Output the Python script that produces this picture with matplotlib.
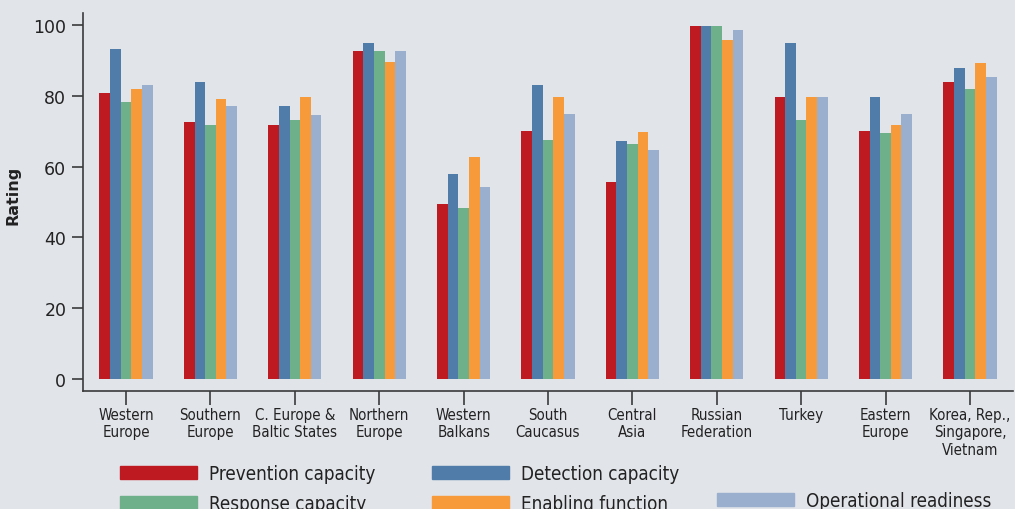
import numpy as np
import matplotlib
matplotlib.use("Agg")
import matplotlib.pyplot as plt
from matplotlib.patches import Patch

regions = ["Western\nEurope", "Southern\nEurope", "C. Europe &\nBaltic States",
           "Northern\nEurope", "Western\nBalkans", "South\nCaucasus", "Central\nAsia",
           "Russian\nFederation", "Turkey", "Eastern\nEurope",
           "Korea, Rep.,\nSingapore,\nVietnam"]

prevention = [80.7, 72.5, 71.7, 92.6, 49.3, 70.2, 55.6, 99.6, 79.8, 70.2, 83.8]
detection = [93.1, 83.8, 77.0, 94.8, 57.8, 83.0, 67.1, 99.6, 94.8, 79.8, 88.0]
response = [78.2, 71.7, 73.1, 92.8, 48.2, 67.4, 66.3, 99.6, 73.1, 69.4, 81.8]
enabling = [81.8, 79.0, 79.8, 89.7, 62.6, 79.8, 69.7, 95.7, 79.8, 71.7, 89.2]
operational = [83.2, 77.0, 74.5, 92.8, 54.1, 74.8, 64.6, 98.5, 79.8, 74.8, 85.2]

series = [
    ("Prevention capacity", prevention, "#be1a22"),
    ("Detection capacity", detection, "#4f7ca8"),
    ("Response capacity", response, "#6db08a"),
    ("Enabling function", enabling, "#f79a3a"),
    ("Operational readiness", operational, "#9aafcd"),
]

BG = "#e1e4e9"
SPINE = "#3a3a3a"
TXT = "#222222"

fig = plt.figure(figsize=(10.15, 5.1), dpi=100, facecolor=BG)
ax = fig.add_axes([0.0818, 0.2314, 0.9162, 0.7411], facecolor=BG)

x = np.arange(len(regions))
w = 0.126
for i, (name, vals, col) in enumerate(series):
    ax.bar(x + (i - 2) * w, vals, width=w, color=col, label=name, linewidth=0)

ax.set_xlim(-0.51, 10.51)
ax.set_ylim(-3.4, 103.4)
ax.set_yticks([0, 20, 40, 60, 80, 100])
ax.set_xticks(x)
ax.set_xticklabels(regions, fontsize=10.8, fontstretch="condensed", color=TXT,
                   linespacing=1.2)
ax.tick_params(axis="y", labelsize=12.5, length=8, width=1.2, color=SPINE,
               labelcolor=TXT, pad=4)
ax.tick_params(axis="x", length=10, width=1.2, color=SPINE, pad=1.5)
for s in ["top", "right"]:
    ax.spines[s].set_visible(False)
for s in ["left", "bottom"]:
    ax.spines[s].set_color(SPINE)
    ax.spines[s].set_linewidth(1.2)

ax.set_ylabel("Rating", fontsize=11.5, fontweight="bold", color=TXT)
ax.yaxis.set_label_coords(-0.067, 0.52)

# legend laid out as three separate columns, like the original
handles = {n: Patch(color=c) for n, _, c in series}
columns = [
    (["Prevention capacity", "Response capacity"], 0.1182, 0.088),
    (["Detection capacity", "Enabling function"], 0.4256, 0.088),
    (["Operational readiness"], 0.7064, 0.035),
]
for names, lx, ty in columns:
    leg = fig.legend([handles[n] for n in names], names, loc="upper left",
                     bbox_to_anchor=(lx, ty), frameon=False, fontsize=13.5,
                     handlelength=4.1, handleheight=0.7, handletextpad=0.65,
                     labelspacing=0.59, borderaxespad=0, borderpad=0)
    for t in leg.get_texts():
        t.set_color(TXT)
        t.set_fontstretch("condensed")

fig.savefig("out.png", dpi=100, facecolor=BG)
